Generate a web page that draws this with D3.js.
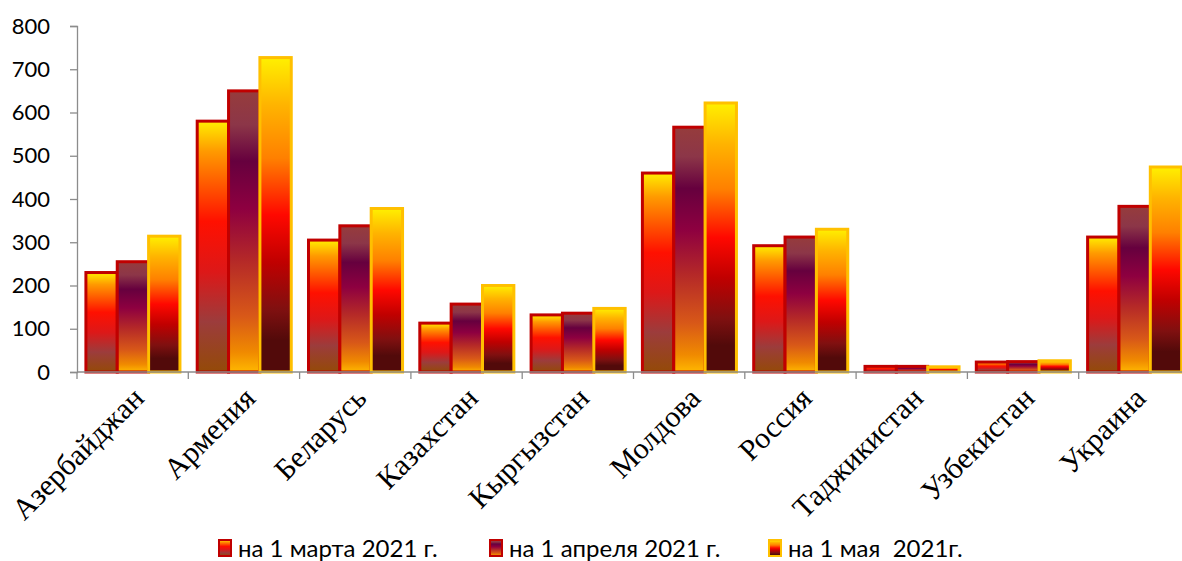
<!DOCTYPE html>
<html>
<head>
<meta charset="utf-8">
<script src="https://cdn.jsdelivr.net/npm/d3@7"></script>
<style>
  body { margin: 0; background: #fff; }
  svg { display: block; }
</style>
</head>
<body>
<svg id="chart" width="1182" height="561"></svg>
<script>
// données
const countries = ["Азербайджан", "Армения", "Беларусь", "Казахстан", "Кыргызстан", "Молдова", "Россия", "Таджикистан", "Узбекистан", "Украина"];
const seriesNames = ["на 1 марта 2021 г.", "на 1 апреля 2021 г.", "на 1 мая  2021г."];
const march = [230, 580, 305, 113, 132, 460, 292, 13, 23, 312];
const april = [255, 650, 338, 157, 136, 566, 312, 13, 24, 383];
const may = [314, 727, 378, 200, 147, 622, 330, 12, 26, 474];
const yTicks = [0, 100, 200, 300, 400, 500, 600, 700, 800];

const values = [march, april, may];

const svg = d3.select("#chart");
const plotLeft = 77, plotTop = 26, plotBottom = 372;
const band = 111.3;

const x0 = d3.scaleBand()
    .domain(countries)
    .range([plotLeft, plotLeft + band * countries.length])
    .padding(0);
const x1 = d3.scaleBand()
    .domain(d3.range(seriesNames.length))
    .range([x0.bandwidth() * 0.08, x0.bandwidth() * 0.925])
    .padding(0);
const y = d3.scaleLinear().domain([0, 800]).range([plotBottom, plotTop]);

// dégradés
const defs = svg.append("defs");
const gradients = [
    [[0, "#ffee00"], [0.12, "#ff9a00"], [0.4, "#ff1000"], [0.6, "#dd1818"], [0.8, "#9c3c3c"], [1, "#944a08"]],
    [[0, "#963c3c"], [0.12, "#8c3648"], [0.25, "#66003e"], [0.42, "#8e0040"], [0.6, "#b42828"], [0.8, "#d85818"], [0.93, "#f08a00"], [1, "#ffb800"]],
    [[0, "#fff000"], [0.15, "#ffb400"], [0.32, "#ff8000"], [0.5, "#ff0800"], [0.65, "#c00000"], [0.8, "#801010"], [0.9, "#520a0a"], [1, "#520a0a"]]
];
const strokes = ["#c00000", "#c00000", "#ffc000"];

gradients.forEach((stops, i) => {
    const g = defs.append("linearGradient")
        .attr("id", "grad" + i)
        .attr("x1", 0).attr("y1", 0).attr("x2", 0).attr("y2", 1);
    stops.forEach(s => {
        g.append("stop").attr("offset", s[0]).attr("stop-color", s[1]);
    });
});

// axe Y
const yAxis = svg.append("g")
    .attr("transform", `translate(${plotLeft},0)`)
    .call(d3.axisLeft(y).tickValues(yTicks).tickSize(7).tickPadding(20));
yAxis.select(".domain").attr("stroke", "#8c8c8c").attr("stroke-width", 1.3);
yAxis.selectAll(".tick line").attr("stroke", "#8c8c8c").attr("stroke-width", 1.3);
yAxis.selectAll("text")
    .attr("font-family", "Lato, sans-serif")
    .attr("font-size", 22)
    .attr("fill", "#000");

// barres
values.forEach((vals, i) => {
    svg.append("g")
        .selectAll("rect")
        .data(vals)
        .join("rect")
        .attr("x", (d, j) => x0(countries[j]) + x1(i))
        .attr("y", d => y(d))
        .attr("width", x1.bandwidth())
        .attr("height", d => y(0) - y(d))
        .attr("fill", `url(#grad${i})`)
        .attr("stroke", strokes[i])
        .attr("stroke-width", 3);
});

// axe X
const xAxis = svg.append("g")
    .attr("transform", `translate(0,${plotBottom})`);
xAxis.append("line")
    .attr("x1", plotLeft).attr("x2", 1182)
    .attr("stroke", "#8c8c8c").attr("stroke-width", 1.3);
xAxis.selectAll(".tk")
    .data(countries)
    .join("line")
    .attr("x1", d => x0(d)).attr("x2", d => x0(d))
    .attr("y1", 0).attr("y2", 7)
    .attr("stroke", "#8c8c8c").attr("stroke-width", 1.3);
xAxis.selectAll("text")
    .data(countries)
    .join("text")
    .attr("transform", d => `translate(${x0(d) + x0.bandwidth() / 2 + 13},${28}) rotate(-45)`)
    .attr("text-anchor", "end")
    .attr("font-family", "'Liberation Serif', 'Times New Roman', serif")
    .attr("font-size", 30)
    .attr("fill", "#000")
    .text(d => d);

// légende
const legendX = [218, 489, 768];
const legend = svg.append("g");
seriesNames.forEach((name, i) => {
    legend.append("rect")
        .attr("x", legendX[i] + 1).attr("y", 540)
        .attr("width", 12).attr("height", 16)
        .attr("fill", `url(#grad${i})`)
        .attr("stroke", strokes[i])
        .attr("stroke-width", 2);
    legend.append("text")
        .attr("x", legendX[i] + 20).attr("y", 557)
        .attr("font-family", "Lato, sans-serif")
        .attr("font-size", 24)
        .attr("fill", "#000")
        .style("white-space", "pre")
        .text(name);
});
</script>
</body>
</html>
